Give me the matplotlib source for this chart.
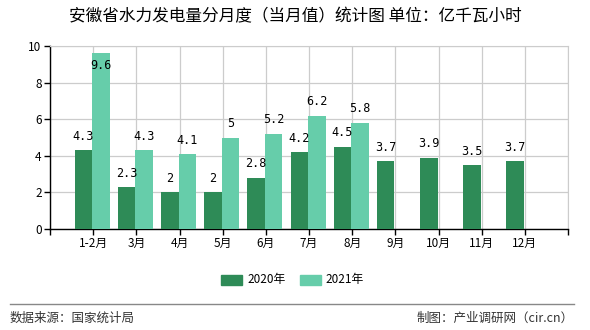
import matplotlib
matplotlib.use("Agg")
import matplotlib.pyplot as plt
from matplotlib.patches import Rectangle
from matplotlib.lines import Line2D

plt.rcParams['font.family'] = ['Noto Sans CJK SC', 'DejaVu Sans']

categories = ["1-2月", "3月", "4月", "5月", "6月", "7月", "8月", "9月", "10月", "11月", "12月"]
values_2020 = [4.3, 2.3, 2, 2, 2.8, 4.2, 4.5, 3.7, 3.9, 3.5, 3.7]
values_2021 = [9.6, 4.3, 4.1, 5, 5.2, 6.2, 5.8]
series_names = ["2020年", "2021年"]
title = "安徽省水力发电量分月度（当月值）统计图 单位：亿千瓦小时"
yticks = [0, 2, 4, 6, 8, 10]

c2020 = "#2e8b57"
c2021 = "#66cdaa"

W, H = 590, 330
fig = plt.figure(figsize=(W/100, H/100), dpi=100)
ax = fig.add_axes([50/W, 1-229/H, (568-50)/W, (229-46)/H])

bw = 0.405
pos = list(range(1, len(categories)+1))
x20 = [p - bw/2 - 0.02 for p in pos]
x21 = [p + bw/2 - 0.02 for p in pos[:len(values_2021)]]
ax.bar(x20, values_2020, width=bw, color=c2020, zorder=3)
ax.bar(x21, values_2021, width=bw, color=c2021, zorder=3)

def lab(v):
    return ("%g" % v)

for x, v in list(zip(x20, values_2020)) + list(zip(x21, values_2021)):
    if v > 9:
        ax.annotate(lab(v), (x, v), xytext=(0, -9), textcoords="offset points",
                    ha="center", va="center", fontsize=8.5, family="DejaVu Sans Mono", zorder=4)
    else:
        ax.annotate(lab(v), (x, v), xytext=(0, 10), textcoords="offset points",
                    ha="center", va="center", fontsize=8.5, family="DejaVu Sans Mono", zorder=4)

ax.set_xlim(0, 12)
ax.set_ylim(0, 10)
ax.set_xticks(range(0, 13))
ax.set_xticklabels([""] + categories + [""], fontsize=8.5)
ax.set_yticks(yticks)
ax.set_yticklabels([str(t) for t in yticks], fontsize=8.5)
ax.grid(True, color="#cccccc", linewidth=0.9, zorder=0)
ax.set_axisbelow(True)
for s in ["top", "right"]:
    ax.spines[s].set_color("#cccccc")
for s in ["left", "bottom"]:
    ax.spines[s].set_color("black")
    ax.spines[s].set_linewidth(1.0)
ax.tick_params(axis="both", length=4, width=1, color="black", pad=2)

fig.text(295/W, 1-17/H, title, ha="center", va="center", fontsize=12)

# legend
ly = 1-280/H
fig.patches.append(Rectangle((221/W, ly-5/H), 21/W, 10/H, transform=fig.transFigure, color=c2020))
fig.text(247/W, ly, series_names[0], ha="left", va="center", fontsize=8.5)
fig.patches.append(Rectangle((300/W, ly-5/H), 21/W, 10/H, transform=fig.transFigure, color=c2021))
fig.text(325/W, ly, series_names[1], ha="left", va="center", fontsize=8.5)

fig.lines.append(Line2D([10/W, 574/W], [1-303.5/H, 1-303.5/H], transform=fig.transFigure, color="#888888", linewidth=1))
fig.text(10/W, 1-318/H, "数据来源：国家统计局", ha="left", va="center", fontsize=9, color="#333333")
fig.text(574/W, 1-318/H, "制图：产业调研网（cir.cn）", ha="right", va="center", fontsize=9, color="#333333")

fig.savefig("out.png", dpi=100)
